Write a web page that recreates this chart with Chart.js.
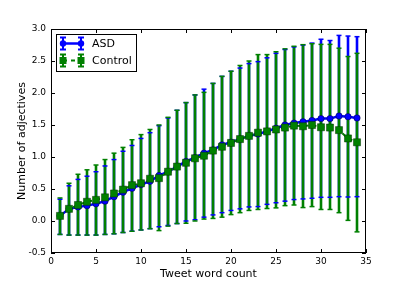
<!DOCTYPE html>
<html>
<head>
<meta charset="utf-8">
<script src="https://cdn.jsdelivr.net/npm/chart.js@4/dist/chart.umd.min.js"></script>
<style>
  html, body { margin: 0; padding: 0; background: #fff; }
  #chart { display: block; }
</style>
</head>
<body>
<canvas id="chart" width="407" height="291"></canvas>
<script>
// word counts on the x axis
const wordCounts = [1, 2, 3, 4, 5, 6, 7, 8, 9, 10, 11, 12, 13, 14, 15, 16, 17,
                    18, 19, 20, 21, 22, 23, 24, 25, 26, 27, 28, 29, 30, 31, 32, 33, 34];

// ASD: mean and error bar ends
const asdMean = [0.08, 0.19, 0.22, 0.24, 0.27, 0.31, 0.38, 0.45, 0.51, 0.57, 0.62, 0.71, 0.77, 0.85, 0.93, 0.99, 1.06,
                 1.11, 1.19, 1.23, 1.28, 1.33, 1.36, 1.40, 1.45, 1.50, 1.53, 1.55, 1.57, 1.60, 1.60, 1.64, 1.63, 1.61];
const asdHigh = [0.34, 0.55, 0.65, 0.70, 0.77, 0.86, 0.96, 1.09, 1.18, 1.29, 1.38, 1.49, 1.61, 1.73, 1.85, 1.97, 2.06,
                 2.15, 2.26, 2.34, 2.39, 2.46, 2.49, 2.55, 2.62, 2.68, 2.72, 2.75, 2.78, 2.84, 2.82, 2.90, 2.89, 2.88];
const asdLow  = [-0.21, -0.22, -0.22, -0.22, -0.22, -0.21, -0.20, -0.18, -0.16, -0.14, -0.12, -0.09, -0.07, -0.04, 0.00, 0.02, 0.06,
                 0.095, 0.13, 0.165, 0.19, 0.22, 0.225, 0.26, 0.285, 0.31, 0.335, 0.345, 0.355, 0.37, 0.37, 0.38, 0.375, 0.38];

// Control: mean and error bar ends
const ctrlMean = [0.08, 0.19, 0.25, 0.30, 0.33, 0.37, 0.43, 0.49, 0.56, 0.59, 0.66, 0.67, 0.77, 0.85, 0.91, 0.98, 1.02,
                  1.10, 1.16, 1.22, 1.28, 1.33, 1.38, 1.40, 1.43, 1.46, 1.49, 1.48, 1.50, 1.465, 1.46, 1.42, 1.29, 1.23];
const ctrlHigh = [0.36, 0.59, 0.73, 0.80, 0.875, 0.96, 1.06, 1.15, 1.27, 1.35, 1.43, 1.50, 1.62, 1.73, 1.85, 1.97, 2.01,
                  2.15, 2.26, 2.34, 2.43, 2.50, 2.60, 2.60, 2.645, 2.69, 2.73, 2.755, 2.77, 2.76, 2.76, 2.70, 2.57, 2.62];
const ctrlLow  = [-0.21, -0.22, -0.22, -0.22, -0.22, -0.21, -0.20, -0.18, -0.16, -0.14, -0.12, -0.15, -0.08, -0.04, -0.035, 0.00, 0.03,
                  0.04, 0.06, 0.10, 0.13, 0.165, 0.18, 0.195, 0.205, 0.24, 0.25, 0.21, 0.225, 0.18, 0.18, 0.13, 0.01, -0.17];

const xTickValues = [0, 5, 10, 15, 20, 25, 30, 35];
const yTickValues = [-0.5, 0.0, 0.5, 1.0, 1.5, 2.0, 2.5, 3.0];

const FONT = 'DejaVu Sans';
const BLUE = '#0000ff';
const GREEN = '#008000';

const toPoints = (vals) => vals.map((v, i) => ({ x: wordCounts[i], y: v }));

// error bars: stems first (under everything), caps just before each series
const errorBars = {
  id: 'errorBars',
  beforeDatasetsDraw(chart) {
    const { ctx, chartArea: a, scales: { x, y } } = chart;
    ctx.save();
    ctx.beginPath();
    ctx.rect(a.left, a.top, a.right - a.left, a.bottom - a.top);
    ctx.clip();
    chart.data.datasets.forEach(ds => {
      ctx.strokeStyle = ds.borderColor;
      ctx.lineWidth = 2.6;
      ds.errLow.forEach((lo, i) => {
        const px = x.getPixelForValue(wordCounts[i]);
        ctx.beginPath();
        ctx.moveTo(px, y.getPixelForValue(lo));
        ctx.lineTo(px, y.getPixelForValue(ds.errHigh[i]));
        ctx.stroke();
      });
    });
    ctx.restore();
  },
  beforeDatasetDraw(chart, args) {
    const { ctx, scales: { x, y } } = chart;
    const ds = chart.data.datasets[args.index];
    ctx.save();
    ctx.strokeStyle = ds.borderColor;
    ctx.lineWidth = 1.5;
    ds.errLow.forEach((lo, i) => {
      const px = x.getPixelForValue(wordCounts[i]);
      [lo, ds.errHigh[i]].forEach(v => {
        const py = y.getPixelForValue(v);
        ctx.beginPath();
        ctx.moveTo(px - 2.5, py);
        ctx.lineTo(px + 2.5, py);
        ctx.stroke();
      });
    });
    ctx.restore();
  }
};

// axes box with inward ticks on all four sides, plus the legend box
const frameAndLegend = {
  id: 'frameAndLegend',
  afterDatasetsDraw(chart) {
    const { ctx, chartArea: a, scales: { x, y } } = chart;
    ctx.save();
    ctx.strokeStyle = '#000';
    ctx.lineWidth = 1;
    ctx.strokeRect(Math.round(a.left) + 0.5, Math.round(a.top) + 0.5,
                   Math.round(a.right - a.left) - 1, Math.round(a.bottom - a.top) - 1);
    ctx.beginPath();
    xTickValues.forEach(v => {
      const px = Math.round(x.getPixelForValue(v)) + 0.5;
      ctx.moveTo(px, a.bottom); ctx.lineTo(px, a.bottom - 4);
      ctx.moveTo(px, a.top); ctx.lineTo(px, a.top + 4);
    });
    yTickValues.forEach(v => {
      const py = Math.round(y.getPixelForValue(v)) + 0.5;
      ctx.moveTo(a.left, py); ctx.lineTo(a.left + 4, py);
      ctx.moveTo(a.right, py); ctx.lineTo(a.right - 4, py);
    });
    ctx.stroke();

    // legend
    const lx = a.left + 5, ly = a.top + 5;
    ctx.fillStyle = '#fff';
    ctx.fillRect(lx, ly, 80, 37);
    ctx.strokeRect(lx + 0.5, ly + 0.5, 80, 37);
    chart.data.datasets.forEach((ds, i) => {
      const cy = ly + 9.5 + i * 17;
      const x1 = lx + 7, x2 = lx + 25;
      ctx.strokeStyle = ds.borderColor;
      ctx.lineWidth = ds.borderWidth;
      ctx.setLineDash(ds.borderDash || []);
      ctx.beginPath(); ctx.moveTo(x1, cy); ctx.lineTo(x2, cy); ctx.stroke();
      ctx.setLineDash([]);
      [x1, x2].forEach(px => {
        ctx.lineWidth = 2;
        ctx.beginPath();
        ctx.moveTo(px, cy - 6); ctx.lineTo(px, cy + 6);
        ctx.moveTo(px - 3, cy - 6); ctx.lineTo(px + 3, cy - 6);
        ctx.moveTo(px - 3, cy + 6); ctx.lineTo(px + 3, cy + 6);
        ctx.stroke();
        ctx.fillStyle = ds.pointBackgroundColor;
        ctx.beginPath();
        if (ds.pointStyle === 'rect') ctx.rect(px - 3.5, cy - 3.5, 7, 7);
        else ctx.arc(px, cy, ds.pointRadius, 0, Math.PI * 2);
        ctx.fill();
      });
      ctx.fillStyle = '#000';
      ctx.font = '11px "' + FONT + '"';
      ctx.textBaseline = 'middle';
      ctx.fillText(ds.label, lx + 36, cy + 0.5);
    });
    ctx.restore();
  }
};

new Chart(document.getElementById('chart'), {
  type: 'line',
  data: {
    datasets: [
      {
        label: 'ASD',
        data: toPoints(asdMean),
        errLow: asdLow,
        errHigh: asdHigh,
        borderColor: BLUE,
        backgroundColor: BLUE,
        borderWidth: 2.5,
        pointStyle: 'circle',
        pointRadius: 3.2,
        pointBackgroundColor: BLUE,
        pointBorderColor: '#000033',
        pointBorderWidth: 0.5,
        order: 2
      },
      {
        label: 'Control',
        data: toPoints(ctrlMean),
        errLow: ctrlLow,
        errHigh: ctrlHigh,
        borderColor: GREEN,
        backgroundColor: GREEN,
        borderWidth: 2,
        borderDash: [4, 4],
        pointStyle: 'rect',
        pointRadius: 5,
        pointBackgroundColor: GREEN,
        pointBorderColor: '#003300',
        pointBorderWidth: 0.5,
        order: 1
      }
    ]
  },
  options: {
    responsive: false,
    animation: false,
    devicePixelRatio: 1,
    layout: { padding: { left: 0, top: 29, right: 41, bottom: 0 } },
    plugins: { legend: { display: false }, tooltip: { enabled: false } },
    scales: {
      x: {
        type: 'linear',
        min: 0, max: 35,
        afterFit: s => { s.height = 38; },
        afterBuildTicks: s => { s.ticks = xTickValues.map(v => ({ value: v })); },
        grid: { display: false, drawTicks: false, tickLength: 0 },
        border: { display: false },
        ticks: { color: '#000', font: { family: FONT, size: 9 }, padding: 3, maxRotation: 0,
                 callback: v => String(v) },
        title: { display: true, text: 'Tweet word count', color: '#000',
                 font: { family: FONT, size: 11 }, padding: { top: 0, bottom: 10 } }
      },
      y: {
        type: 'linear',
        min: -0.5, max: 3.0,
        afterFit: s => { s.width = 51; },
        afterBuildTicks: s => { s.ticks = yTickValues.map(v => ({ value: v })); },
        grid: { display: false, drawTicks: false, tickLength: 0 },
        border: { display: false },
        ticks: { color: '#000', font: { family: FONT, size: 9 }, padding: 5,
                 callback: v => v.toFixed(1) },
        title: { display: true, text: 'Number of adjectives', color: '#000',
                 font: { family: FONT, size: 11 }, padding: { top: 16, bottom: 0 } }
      }
    }
  },
  plugins: [errorBars, frameAndLegend]
});
</script>
</body>
</html>
